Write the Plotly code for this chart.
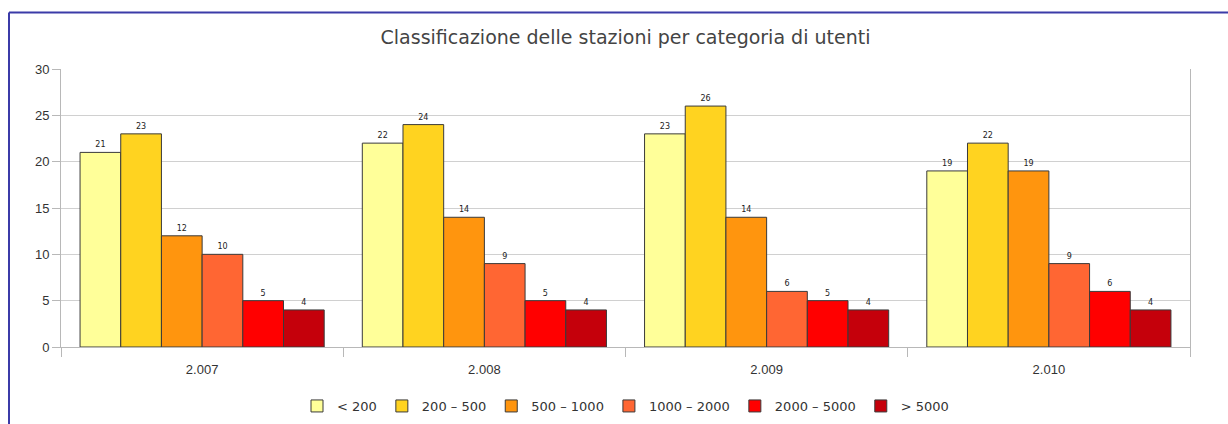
import plotly.graph_objects as go

years = ["2.007", "2.008", "2.009", "2.010"]
series_names = ["< 200", "200 – 500", "500 – 1000", "1000 – 2000", "2000 – 5000", "> 5000"]
v_lt200 = [21, 22, 23, 19]
v_200_500 = [23, 24, 26, 22]
v_500_1000 = [12, 14, 14, 19]
v_1000_2000 = [10, 9, 6, 9]
v_2000_5000 = [5, 5, 5, 6]
v_gt5000 = [4, 4, 4, 4]
series_values = [v_lt200, v_200_500, v_500_1000, v_1000_2000, v_2000_5000, v_gt5000]
colors = ["#FFFF99", "#FFD320", "#FF950E", "#FF6633", "#FF0000", "#C5000B"]

W, H = 1228, 424
ml, mr, mt, mb = 61, 38, 69, 77
pw, ph = W - ml - mr, H - mt - mb

fig = go.Figure()
for name, vals, c in zip(series_names, series_values, colors):
    fig.add_trace(go.Bar(
        x=years, y=vals, name=name,
        marker=dict(color=c, line=dict(color="#3a3a3a", width=1)),
        text=[str(v) for v in vals], textposition="outside",
        textfont=dict(size=8, color="#222222", family="DejaVu Sans"),
        cliponaxis=False,
    ))

def px_x(p):
    return (p - ml) / pw

def px_y(p):
    return (H - mb - p) / ph

frame = "#3b3ba8"
fig.add_shape(type="line", xref="paper", yref="paper",
              x0=px_x(9), x1=px_x(W + 5), y0=px_y(12.5), y1=px_y(12.5),
              line=dict(color=frame, width=2))
fig.add_shape(type="line", xref="paper", yref="paper",
              x0=px_x(9), x1=px_x(9), y0=px_y(12.5), y1=px_y(H + 5),
              line=dict(color=frame, width=2))

fig.update_layout(
    width=W, height=H,
    margin=dict(l=ml, r=mr, t=mt, b=mb, autoexpand=False),
    paper_bgcolor="white", plot_bgcolor="white",
    barmode="group", bargap=0.135, bargroupgap=0,
    title=dict(text="Classificazione delle stazioni per categoria di utenti",
               x=0.5, xref="paper", xanchor="center",
               y=1 - 37 / H, yanchor="middle",
               font=dict(family="DejaVu Sans", size=19, color="#444444")),
    font=dict(family="Liberation Sans", color="#333333"),
    legend=dict(orientation="h", x=0.5, xanchor="center",
                y=px_y(406), yanchor="middle",
                font=dict(size=13, color="#333333", family="DejaVu Sans"),
                itemwidth=30, tracegroupgap=0),
    showlegend=True,
)
fig.update_xaxes(
    type="category", showline=True, linecolor="#b8b8b8", linewidth=1,
    ticks="outside", tickson="boundaries", ticklen=9, tickcolor="#b8b8b8",
    ticklabelstandoff=10, automargin=False,
    tickfont=dict(size=13, color="#333333"), showgrid=False,
)
fig.update_yaxes(
    range=[0, 30], dtick=5, showline=True, linecolor="#b8b8b8", linewidth=1,
    mirror=True, ticks="outside", ticklen=8, tickcolor="#b8b8b8",
    gridcolor="#d0d0d0", gridwidth=1, zeroline=False, automargin=False,
    tickfont=dict(size=13, color="#333333"),
)

fig.write_html("out.html", post_script="document.body.style.margin='0';",
               config={"displayModeBar": False})
